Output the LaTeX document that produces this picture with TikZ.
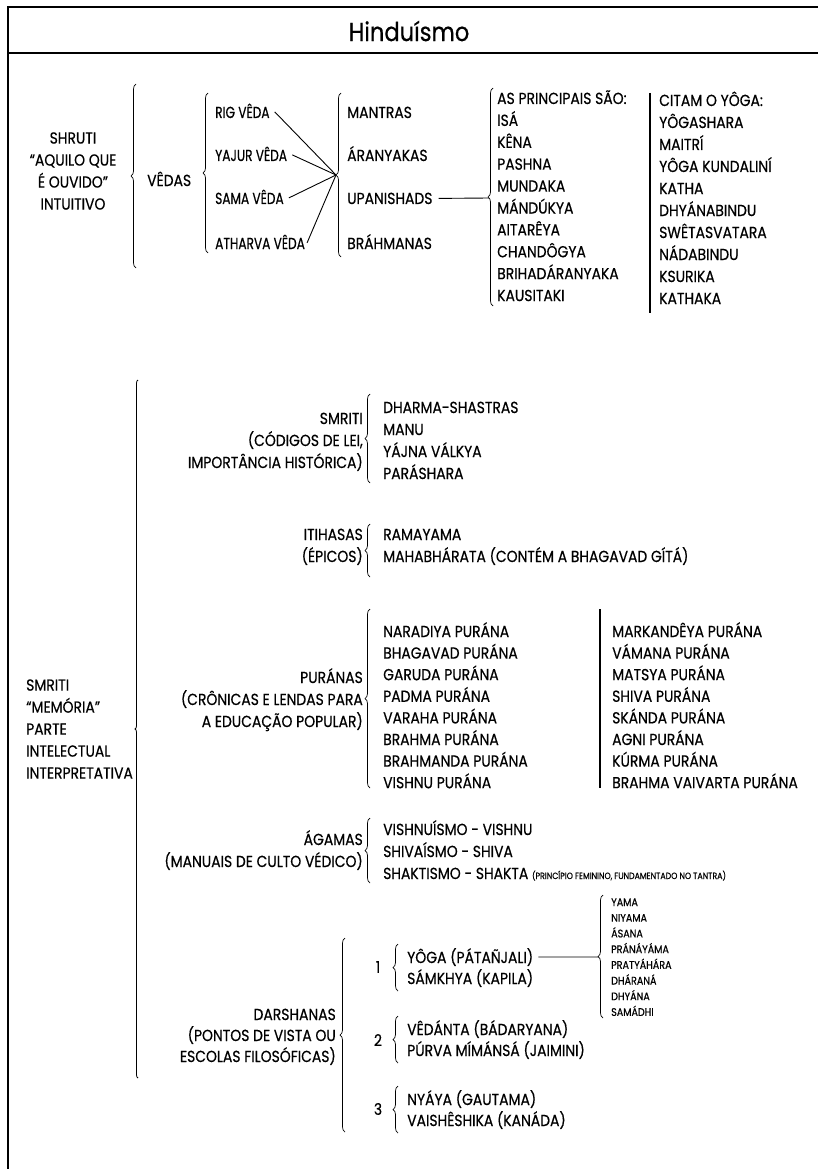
\documentclass[tikz,border=0pt]{standalone}
\usepackage{fontspec}
\setmainfont[FakeStretch=0.87,FakeBold=0.5]{Poppins}
\newfontfamily\narrowfont[FakeStretch=0.76,FakeBold=0.5]{Poppins}
\usetikzlibrary{decorations.pathreplacing}
\begin{document}
\begin{tikzpicture}[x=1pt,y=-1pt,
  every node/.style={inner sep=0pt},
  lbl/.style={font=\fontsize{16}{18}\selectfont, anchor=base west},
  nlbl/.style={font=\narrowfont\fontsize{16}{18}\selectfont, anchor=base west},
  lblr/.style={font=\fontsize{16}{18}\selectfont, anchor=base east},
  lblc/.style={font=\fontsize{16}{22}\selectfont, align=center},
  lbll/.style={font=\fontsize{16}{22}\selectfont, align=left, anchor=west},
  small/.style={font=\fontsize{11}{12}\selectfont, anchor=base west},
  brc/.style={decorate, decoration={brace, amplitude=5pt}, line width=0.7pt},
  longbrc/.style={decorate, decoration={brace, amplitude=3pt}, line width=0.8pt},
  bar/.style={line width=1.4pt},
  frame/.style={line width=1.7pt},
  conn/.style={line width=0.9pt}
]
\useasboundingbox (0,0) rectangle (818,1169);
% frame
\draw[frame] (8,1169) -- (8,7) -- (818,7);
\draw[frame] (8,53) -- (818,53);
\node[font=\fontsize{26}{28}\selectfont] (title) at (409,31) {Hinduísmo};

% SHRUTI
\node[lblc] (shruti) at (73,171) {SHRUTI\\“AQUILO QUE\\É OUVIDO”\\INTUITIVO};
\draw[brc] (136,268) -- (136,84);
\node[lbl] (vedas) at (147,186) {VÊDAS};
\draw[brc] (208,253) -- (208,93);
\node[nlbl] (rig) at (215,118) {RIG VÊDA};
\node[nlbl] (yajur) at (215,161) {YAJUR VÊDA};
\node[nlbl] (sama) at (215,204) {SAMA VÊDA};
\node[nlbl] (atharva) at (215,249) {ATHARVA VÊDA};
\draw[brc] (341,257) -- (341,93);
\coordinate (conv) at (336,175);
\draw[conn] ([xshift=5pt,yshift=-1pt]rig.east) -- (conv);
\draw[conn] ([xshift=5pt,yshift=-1pt]yajur.east) -- (conv);
\draw[conn] ([xshift=5pt,yshift=-1pt]sama.east) -- (conv);
\draw[conn] ([xshift=2pt,yshift=-1pt]atharva.east) -- (conv);
\node[lbl] (mantras) at (347,118) {MANTRAS};
\node[lbl] (aran) at (347,161) {ÁRANYAKAS};
\node[lbl] (upan) at (347,204) {UPANISHADS};
\node[lbl] (brah) at (347,249) {BRÁHMANAS};
\coordinate (upt) at (489,198);
\draw[conn] ([xshift=6pt]upan.east) -- (upt);
\draw[brc] (493,306) -- (493,88);
\foreach \t [count=\i from 0] in {AS PRINCIPAIS SÃO:, ISÁ, KÊNA, PASHNA, MUNDAKA, MÁNDÚKYA, AITARÊYA, CHANDÔGYA, BRIHADÁRANYAKA, KAUSITAKI}
  \node[lbl] (up\i) at (497,104+21.9*\i) {\t};
\draw[bar] (650,93) -- (650,313);
\foreach \t [count=\i from 0] in {CITAM O YÔGA:, YÔGASHARA, MAITRÍ, YÔGA KUNDALINÍ, KATHA, DHYÁNABINDU, SWÊTASVATARA, NÁDABINDU, KSURIKA, KATHAKA}
  \node[lbl] (yo\i) at (659,106+22*\i) {\t};

% SMRITI
\draw[longbrc] (138,1078) -- (138,380);
\node[lbll] (smriti) at (26,729) {SMRITI\\“MEMÓRIA”\\PARTE\\INTELECTUAL\\INTERPRETATIVA};

\node[lblr] (cod1) at (363,424) {SMRITI};
\node[lblr] (cod2) at (363,446) {(CÓDIGOS DE LEI,};
\node[lblr] (cod3) at (363,468) {IMPORTÂNCIA HISTÓRICA)};
\draw[brc] (370,483) -- (370,394);
\foreach \t [count=\i from 0] in {DHARMA-SHASTRAS, MANU, YÁJNA VÁLKYA, PARÁSHARA}
  \node[lbl] (dh\i) at (383,413+22*\i) {\t};

\node[lblr] (iti1) at (363,540) {ITIHASAS};
\node[lblr] (iti2) at (363,562) {(ÉPICOS)};
\draw[brc] (370,577) -- (370,524);
\node[lbl] (ram) at (383,540) {RAMAYAMA};
\node[lbl] (mah) at (383,562) {MAHABHÁRATA (CONTÉM A BHAGAVAD GÍTÁ)};

\node[lblr] (pur1) at (363,683) {PURÁNAS};
\node[lblr] (pur2) at (363,705) {(CRÔNICAS E LENDAS PARA};
\node[lblr] (pur3) at (363,727) {A EDUCAÇÃO POPULAR)};
\draw[brc] (370,788) -- (370,609);
\foreach \t [count=\i from 0] in {NARADIYA PURÁNA, BHAGAVAD PURÁNA, GARUDA PURÁNA, PADMA PURÁNA, VARAHA PURÁNA, BRAHMA PURÁNA, BRAHMANDA PURÁNA, VISHNU PURÁNA}
  \node[lbl] (pa\i) at (383,637+21.6*\i) {\t};
\draw[bar] (600,609) -- (600,788);
\foreach \t [count=\i from 0] in {MARKANDÊYA PURÁNA, VÁMANA PURÁNA, MATSYA PURÁNA, SHIVA PURÁNA, SKÁNDA PURÁNA, AGNI PURÁNA, KÚRMA PURÁNA, BRAHMA VAIVARTA PURÁNA}
  \node[lbl] (pb\i) at (612,637+21.6*\i) {\t};

\node[lblr] (ag1) at (363,845) {ÁGAMAS};
\node[lblr] (ag2) at (363,867) {(MANUAIS DE CULTO VÉDICO)};
\draw[brc] (370,883) -- (370,818);
\node[lbl] (ag3) at (383,835) {VISHNUÍSMO - VISHNU};
\node[lbl] (ag4) at (383,857) {SHIVAÍSMO - SHIVA};
\node[lbl] (ag5) at (383,879) {SHAKTISMO - SHAKTA {\fontsize{9}{10}\selectfont (PRINCÍPIO FEMININO, FUNDAMENTADO NO TANTRA)}};

% DARSHANAS
\node[lblr] (da1) at (336,1020) {DARSHANAS};
\node[lblr] (da2) at (336,1041) {(PONTOS DE VISTA OU};
\node[lblr] (da3) at (336,1062) {ESCOLAS FILOSÓFICAS)};
\draw[brc] (345,1132) -- (345,938);
\node[font=\fontsize{16}{18}\selectfont] (n1) at (378,967) {1};
\node[font=\fontsize{16}{18}\selectfont] (n2) at (378,1040) {2};
\node[font=\fontsize{16}{18}\selectfont] (n3) at (378,1109) {3};
\draw[brc] (398,991) -- (398,944);
\draw[brc] (398,1063) -- (398,1016);
\draw[brc] (398,1133) -- (398,1086);
\node[lbl] (yoga) at (407,963) {YÔGA (PÁTAÑJALI)};
\node[lbl] (samk) at (407,984) {SÁMKHYA (KAPILA)};
\node[lbl] (ved) at (407,1035) {VÊDÁNTA (BÁDARYANA)};
\node[lbl] (purv) at (407,1056) {PÚRVA MÍMÁNSÁ (JAIMINI)};
\node[lbl] (nya) at (407,1105) {NYÁYA (GAUTAMA)};
\node[lbl] (vai) at (407,1126) {VAISHÊSHIKA (KANÁDA)};
\coordinate (ytip) at (598,957);
\draw[conn] ([xshift=5pt]yoga.east) -- (ytip);
\draw[brc] (603,1018) -- (603,895);
\foreach \t [count=\i from 0] in {YAMA, NIYAMA, ÁSANA, PRÁNÁYÁMA, PRATYÁHÁRA, DHÁRANÁ, DHYÁNA, SAMÁDHI}
  \node[small] (ang\i) at (611,906+15.7*\i) {\t};
\end{tikzpicture}
\end{document}
